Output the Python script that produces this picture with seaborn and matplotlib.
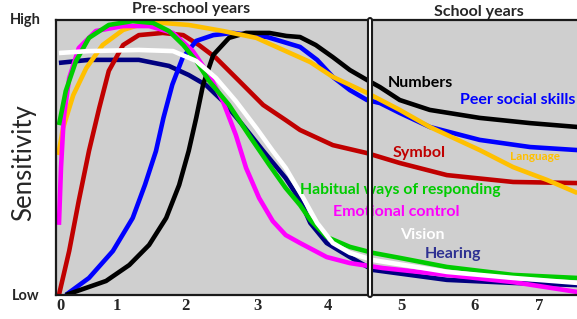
import matplotlib
matplotlib.use("Agg")
import matplotlib.pyplot as plt
import seaborn as sns

# x = age (years, axis units), y = sensitivity (0 = low, 1 = high)
hearing_x = [-0.03, 0.41, 1.14, 1.58, 1.87, 2.12, 2.37, 2.66, 2.96, 3.29, 3.50, 3.65, 3.89, 4.23, 4.57, 5.65, 6.62, 7.56]
hearing_y = [0.844, 0.855, 0.855, 0.833, 0.800, 0.764, 0.705, 0.618, 0.524, 0.425, 0.345, 0.262, 0.189, 0.138, 0.091, 0.055, 0.044, 0.036]

symbol_x = [-0.03, 0.12, 0.26, 0.41, 0.56, 0.70, 0.91, 1.14, 1.49, 1.79, 2.02, 2.27, 2.61, 2.96, 3.29, 3.50, 3.98, 4.48, 4.96, 5.65, 6.62, 7.56]
symbol_y = [0.0, 0.160, 0.342, 0.524, 0.680, 0.815, 0.909, 0.945, 0.953, 0.945, 0.909, 0.862, 0.778, 0.691, 0.636, 0.600, 0.545, 0.516, 0.480, 0.436, 0.411, 0.407]

peer_x = [0.07, 0.41, 0.76, 1.05, 1.23, 1.39, 1.50, 1.63, 1.78, 1.98, 2.23, 2.52, 3.02, 3.50, 3.75, 3.98, 4.23, 4.48, 4.67, 4.96, 5.40, 6.13, 6.87, 7.56]
peer_y = [0.0, 0.062, 0.160, 0.280, 0.401, 0.523, 0.644, 0.765, 0.862, 0.924, 0.945, 0.953, 0.938, 0.902, 0.855, 0.793, 0.745, 0.709, 0.698, 0.662, 0.611, 0.564, 0.538, 0.527]

numbers_x = [0.07, 0.66, 1.00, 1.29, 1.54, 1.73, 1.87, 1.98, 2.08, 2.23, 2.46, 2.71, 3.05, 3.30, 3.50, 3.73, 3.98, 4.23, 4.48, 4.67, 4.96, 5.40, 6.13, 6.87, 7.56]
numbers_y = [0.0, 0.051, 0.109, 0.182, 0.280, 0.400, 0.524, 0.644, 0.764, 0.873, 0.935, 0.953, 0.953, 0.942, 0.938, 0.909, 0.865, 0.818, 0.782, 0.756, 0.709, 0.673, 0.644, 0.625, 0.611]

language_x = [-0.04, 0.03, 0.18, 0.37, 0.61, 0.91, 1.29, 1.87, 2.37, 2.86, 3.29, 3.65, 3.98, 4.48, 4.96, 5.40, 6.13, 6.62, 7.12, 7.56]
language_y = [0.509, 0.607, 0.727, 0.825, 0.909, 0.964, 0.993, 0.982, 0.960, 0.935, 0.887, 0.847, 0.793, 0.735, 0.673, 0.611, 0.527, 0.465, 0.418, 0.371]

emotional_x = [-0.03, 0.0, 0.04, 0.12, 0.26, 0.51, 0.91, 1.29, 1.64, 1.93, 2.17, 2.37, 2.56, 2.71, 2.90, 3.10, 3.29, 3.50, 3.89, 4.23, 4.71, 5.65, 6.62, 7.56]
emotional_y = [0.255, 0.462, 0.644, 0.789, 0.898, 0.960, 0.978, 0.978, 0.953, 0.887, 0.800, 0.705, 0.582, 0.462, 0.353, 0.269, 0.218, 0.189, 0.138, 0.116, 0.098, 0.073, 0.047, 0.011]

habitual_x = [-0.03, 0.07, 0.22, 0.41, 0.70, 1.05, 1.35, 1.58, 1.79, 1.98, 2.17, 2.46, 2.75, 3.05, 3.29, 3.50, 3.65, 3.89, 4.23, 4.57, 4.96, 5.65, 6.62, 7.56]
habitual_y = [0.618, 0.742, 0.851, 0.935, 0.982, 0.996, 0.989, 0.960, 0.909, 0.851, 0.778, 0.691, 0.582, 0.473, 0.389, 0.327, 0.273, 0.211, 0.175, 0.153, 0.135, 0.102, 0.073, 0.062]

vision_x = [-0.03, 0.41, 1.14, 1.64, 1.98, 2.27, 2.56, 2.86, 3.10, 3.29, 3.54, 3.75, 3.98, 4.23, 4.57, 5.65, 6.62, 7.56]
vision_y = [0.880, 0.887, 0.891, 0.887, 0.851, 0.789, 0.705, 0.607, 0.524, 0.462, 0.356, 0.262, 0.189, 0.153, 0.127, 0.084, 0.062, 0.044]

tick_pos = [0, 0.82, 1.82, 2.88, 3.91, 4.99, 6.06, 7.0]
tick_labels = ["0", "1", "2", "3", "4", "5", "6", "7"]
school_start = 4.524

series = [
    ("Hearing", hearing_x, hearing_y, "#000080"),
    ("Symbol", symbol_x, symbol_y, "#C00000"),
    ("Peer social skills", peer_x, peer_y, "#0000FF"),
    ("Numbers", numbers_x, numbers_y, "#000000"),
    ("Language", language_x, language_y, "#FFC000"),
    ("Emotional control", emotional_x, emotional_y, "#FF00FF"),
    ("Habitual ways of responding", habitual_x, habitual_y, "#00CC00"),
    ("Vision", vision_x, vision_y, "#FFFFFF"),
]

# label text: (name, x, y, colour, size)
labels = [
    ("Numbers", 4.79, 0.771, "#000000", 11.5),
    ("Peer social skills", 5.84, 0.709, "#0000FF", 11.5),
    ("Symbol", 4.85, 0.516, "#C00000", 11.5),
    ("Language", 6.57, 0.502, "#FFC000", 8.5),
    ("Habitual ways of responding", 3.50, 0.382, "#00CC00", 11.3),
    ("Emotional control", 3.98, 0.302, "#FF00FF", 11.5),
    ("Vision", 4.96, 0.218, "#FFFFFF", 11.5),
    ("Hearing", 5.33, 0.149, "#2E3192", 11.5),
]

sns.set_theme(style="white")
plt.rcParams["font.family"] = ["Lato", "DejaVu Sans"]

fig = plt.figure(figsize=(5.77, 3.19), dpi=100)
ax = fig.add_axes([56 / 577, 24 / 319, 1 - 56 / 577, 275 / 319])
ax.set_facecolor("#CFCFCF")

for name, xs, ys, col in series:
    sns.lineplot(x=xs, y=ys, color=col, linewidth=3.3, sort=False, ax=ax,
                 solid_capstyle="butt", solid_joinstyle="round")

for name, x, y, col, size in labels:
    ax.text(x, y, name, color=col, fontsize=size, fontweight="bold",
            ha="left", va="center")

# double line between pre-school and school years
ax.axvline(school_start, color="#1A1A1A", linewidth=4.4, zorder=6, clip_on=False)
ax.axvline(school_start, color="white", linewidth=1.4, zorder=7, clip_on=False)

ax.set_xlim(-0.073, 7.555)
ax.set_ylim(0, 1)
ax.set_xticks(tick_pos)
ax.set_xticklabels(tick_labels, fontfamily="Liberation Serif", fontweight="bold", fontsize=12)
ax.tick_params(axis="x", length=0, pad=2)
ax.set_yticks([])
for side in ["left", "top", "bottom"]:
    ax.spines[side].set_color("#1A1A1A")
    ax.spines[side].set_linewidth(1.6)
ax.spines["right"].set_visible(False)

fig.text(191 / 577, 1 - 9 / 319, "Pre-school years", fontsize=11.5, fontweight="bold",
         ha="center", va="center")
fig.text(479 / 577, 1 - 12 / 319, "School years", fontsize=11.5, fontweight="bold",
         ha="center", va="center")
fig.text(25 / 577, 1 - 20 / 319, "High", fontsize=10.5, fontweight="bold", ha="center", va="center")
fig.text(26 / 577, 1 - 296 / 319, "Low", fontsize=10.5, fontweight="bold", ha="center", va="center")
fig.text(24 / 577, 1 - 163 / 319, "Sensitivity", fontsize=18.5, rotation=90, ha="center", va="center")

fig.savefig("out.png", dpi=100)
